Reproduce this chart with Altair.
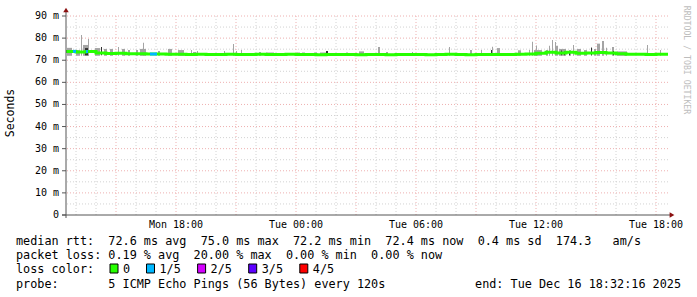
import altair as alt
import pandas as pd

# ---------------- data (time in hours since Mon 00:00, values in ms) ----------------
med_start_h = 12.5
med_step_h = 0.5
median_ms = [74.0, 73.7, 73.9, 73.3, 73.0, 73.1, 72.9, 72.9, 72.8, 72.8,
             72.7, 72.7, 72.6, 72.7, 72.6, 72.6, 72.7, 72.6, 72.6, 72.7,
             72.6, 72.6, 72.7, 72.6, 72.6, 72.5, 72.6, 72.6, 72.6, 72.5,
             72.6, 72.6, 72.5, 72.6, 72.6, 72.6, 72.5, 72.6, 72.7, 72.6,
             72.5, 72.6, 72.6, 72.6, 72.6, 72.7, 72.8, 73.1, 73.6, 73.3,
             73.6, 73.2, 73.3, 73.5, 73.3, 72.9, 72.7, 72.7, 72.6, 72.7, 72.7]
end_h = 42.6

smoke_start = [12.55, 13.00, 13.25, 13.35, 13.60, 13.95, 14.40, 14.70, 15.10, 15.30,
               15.60, 16.00, 16.20, 16.35, 17.10, 17.60, 18.10, 18.75, 18.85, 19.05,
               20.40, 20.85, 21.00, 21.25, 22.15, 22.50, 24.05, 24.30, 24.90, 25.20,
               26.50, 27.15, 28.10, 28.50, 29.80, 31.65, 32.70, 33.25, 33.80, 34.05,
               35.10, 35.65, 35.80, 35.90, 36.00, 36.50, 36.65, 36.80, 36.95, 37.00,
               37.15, 37.65, 37.85, 38.05, 38.40, 38.75, 38.90, 39.05, 39.30, 39.50,
               39.80, 40.05, 41.55, 42.20]
smoke_end = [12.80, 13.20, 13.30, 13.65, 13.65, 14.20, 14.55, 14.85, 15.15, 15.45,
             15.70, 16.10, 16.50, 16.40, 17.20, 17.80, 18.40, 18.80, 19.00, 19.10,
             20.45, 20.90, 21.05, 21.30, 22.25, 22.90, 24.20, 24.45, 25.05, 25.55,
             26.60, 27.40, 28.20, 28.60, 29.85, 31.70, 32.80, 33.30, 33.85, 34.20,
             35.25, 35.70, 35.85, 36.30, 36.05, 36.60, 36.70, 36.85, 37.00, 37.10,
             37.50, 37.75, 37.90, 38.25, 38.55, 38.80, 39.00, 39.20, 39.40, 39.55,
             39.90, 40.55, 41.60, 42.25]
smoke_top = [75.6, 74.6, 81.4, 76.9, 79.6, 75.5, 75.1, 75.1, 76.0, 75.1,
             74.6, 74.6, 75.1, 77.9, 74.2, 75.1, 74.6, 74.6, 73.7, 74.2,
             74.2, 77.3, 74.2, 74.6, 73.7, 73.5, 73.5, 73.5, 73.5, 73.5,
             73.5, 74.0, 76.0, 73.7, 73.7, 76.0, 74.6, 74.6, 76.1, 75.5,
             74.5, 74.6, 78.4, 74.6, 76.7, 74.6, 76.5, 79.1, 78.2, 76.5,
             75.1, 74.6, 76.9, 75.1, 74.6, 76.0, 75.1, 77.5, 78.7, 75.6,
             76.0, 74.0, 76.9, 74.6]
smoke_low = 72.0

dark_start = [13.45, 14.25, 25.50, 33.75, 37.25, 37.40, 37.65, 38.75, 39.85]
dark_end = [13.60, 14.30, 25.60, 33.80, 37.30, 37.45, 37.70, 38.80, 39.90]
dark_top = [75.5, 76.0, 74.2, 74.6, 74.4, 74.0, 74.2, 75.5, 74.2]
dark_low = 72.2

loss_start = [12.85, 13.50, 16.70]
loss_end = [13.00, 13.60, 17.05]
loss_level = [1, 1, 1]

legend_labels = ["0", "1/5", "2/5", "3/5", "4/5"]
loss_colors = ["#26ff00", "#00b8ff", "#d400ff", "#5e00ff", "#ff0000"]

x_label_hours = [18, 24, 30, 36, 42]
x_label_text = ["Mon 18:00", "Tue 00:00", "Tue 06:00", "Tue 12:00", "Tue 18:00"]
y_label_values = [0, 10, 20, 30, 40, 50, 60, 70, 80, 90]
y_label_text = ["0", "10 m", "20 m", "30 m", "40 m", "50 m", "60 m", "70 m", "80 m", "90 m"]
y_minor = [5, 15, 25, 35, 45, 55, 65, 75, 85]
y_major = [10, 20, 30, 40, 50, 60, 70, 80, 90]
x_minor = [h for h in range(13, 43) if h % 3 != 0]
x_major = [h for h in range(15, 43, 3)]

row1 = "median rtt:  72.6 ms avg  75.0 ms max  72.2 ms min  72.4 ms now  0.4 ms sd  174.3   am/s"
row2 = "packet loss: 0.19 % avg  20.00 % max  0.00 % min  0.00 % now"
row3 = "loss color:"
row4 = "probe:       5 ICMP Echo Pings (56 Bytes) every 120s"
row4_end = "end: Tue Dec 16 18:32:16 2025"
watermark = "RRDTOOL / TOBI OETIKER"
y_title = "Seconds"

# ---------------- tables ----------------
W, H = 602, 199
X0 = 66  # absolute left of plot
Y0 = 16  # absolute top of plot
MONO = "DejaVu Sans Mono"

med_h = [med_start_h + i * med_step_h for i in range(len(median_ms))] + [end_h]
med_df = pd.DataFrame({"h": med_h, "ms": median_ms + [median_ms[-1]]})

smoke_df = pd.DataFrame({"s": smoke_start, "e": smoke_end, "hi": smoke_top,
                         "lo": [smoke_low] * len(smoke_top)})
dark_df = pd.DataFrame({"s": dark_start, "e": dark_end, "hi": dark_top,
                        "lo": [dark_low] * len(dark_top)})


def med_at(h):
    i = int((h - med_start_h) // med_step_h)
    i = max(0, min(i, len(median_ms) - 1))
    return median_ms[i]


loss_df = pd.DataFrame({"s": loss_start, "e": loss_end,
                        "ms": [med_at((a + b) / 2) for a, b in zip(loss_start, loss_end)],
                        "c": [loss_colors[l] for l in loss_level]})

xs = alt.Scale(domain=[med_start_h, end_h], nice=False, zero=False)
ys = alt.Scale(domain=[0, 90], nice=False, zero=False)


def X(f):
    return alt.X(f, scale=xs, axis=None)


def Y(f):
    return alt.Y(f, scale=ys, axis=None)


minor_col = "#d2d2d2"
major_col = "#eeb0b0"
dash = [1, 2]

hmin = alt.Chart(pd.DataFrame({"v": y_minor})).mark_rule(
    color=minor_col, strokeDash=dash, strokeWidth=1).encode(y=Y("v:Q"))
hmaj = alt.Chart(pd.DataFrame({"v": y_major})).mark_rule(
    color=major_col, strokeDash=dash, strokeWidth=1).encode(y=Y("v:Q"))
vmin = alt.Chart(pd.DataFrame({"h": x_minor})).mark_rule(
    color=minor_col, strokeDash=dash, strokeWidth=1).encode(x=X("h:Q"))
vmaj = alt.Chart(pd.DataFrame({"h": x_major})).mark_rule(
    color=major_col, strokeDash=dash, strokeWidth=1).encode(x=X("h:Q"))

smoke = alt.Chart(smoke_df).mark_rect(color="#a4a4a4").encode(
    x=X("s:Q"), x2="e:Q", y=Y("lo:Q"), y2="hi:Q")
dark = alt.Chart(dark_df).mark_rect(color="#333333").encode(
    x=X("s:Q"), x2="e:Q", y=Y("lo:Q"), y2="hi:Q")

median = alt.Chart(med_df).mark_line(
    interpolate="step-after", color=loss_colors[0], strokeWidth=3).encode(
    x=X("h:Q"), y=Y("ms:Q"))

loss = alt.Chart(loss_df).mark_rule(strokeWidth=3).encode(
    x=X("s:Q"), x2="e:Q", y=Y("ms:Q"),
    color=alt.Color("c:N", scale=None))

# axis labels and ticks drawn through the scales
ylab_df = pd.DataFrame({"v": y_label_values, "t": y_label_text})
y_ticks = alt.Chart(ylab_df).mark_rule(color="#555555", strokeWidth=1).encode(
    y=Y("v:Q"), x=alt.value(-4), x2=alt.value(0))
y_labels = alt.Chart(ylab_df).mark_text(
    align="right", baseline="middle", font=MONO, fontSize=10, color="#000000").encode(
    y=Y("v:Q"), x=alt.value(-7), text="t:N")
xlab_df = pd.DataFrame({"h": x_label_hours, "t": x_label_text})
x_labels = alt.Chart(xlab_df).mark_text(
    align="center", baseline="middle", font=MONO, fontSize=10, color="#000000").encode(
    x=X("h:Q"), y=alt.value(H + 10), text="t:N")

one = alt.Data(values=[{"k": 0}])
axis_col = "#555555"
arrow_col = "#8b1010"
xaxis_line = alt.Chart(one).mark_rule(color=axis_col, strokeWidth=1).encode(
    x=alt.value(-4), x2=alt.value(W + 2), y=alt.value(H))
yaxis_line = alt.Chart(one).mark_rule(color=axis_col, strokeWidth=1).encode(
    x=alt.value(0), y=alt.value(-6), y2=alt.value(H + 3))
arrow_r = alt.Chart(one).mark_point(shape="triangle-right", filled=True, color=arrow_col,
                                   size=30, opacity=1).encode(
    x=alt.value(W + 4), y=alt.value(H))
arrow_u = alt.Chart(one).mark_point(shape="triangle-up", filled=True, color=arrow_col,
                                   size=30, opacity=1).encode(
    x=alt.value(0), y=alt.value(-6))


def nb(s):
    return s.replace(" ", "\u00a0")


def text_layer(s, x, y, align="left", size=11.8, color="#000000", angle=0):
    kw = dict(align=align, baseline="middle", font=MONO, fontSize=size, color=color)
    if angle:
        kw["angle"] = angle
    return alt.Chart(alt.Data(values=[{"t": nb(s)}])).mark_text(**kw).encode(
        text="t:N", x=alt.value(x), y=alt.value(y))


texts = [
    text_layer(row1, 16 - X0, 241 - Y0),
    text_layer(row2, 16 - X0, 255 - Y0),
    text_layer(row3, 16 - X0, 269 - Y0),
    text_layer(row4, 16 - X0, 284 - Y0),
    text_layer(row4_end, 681 - X0, 284 - Y0, align="right"),
    text_layer(watermark, 686 - X0, 60 - Y0, align="center", size=8.2,
               color="#bdbdbd", angle=90),
    text_layer(y_title, 11 - X0, 113 - Y0, align="center", size=11.5, angle=270),
]

# legend boxes
lefts = []
pos = 110.0
for lab in legend_labels:
    lefts.append(pos)
    pos += (len(lab) + 4) * 7.3
box_df = pd.DataFrame({
    "b0": [l - X0 for l in lefts],
    "b1": [l - X0 + 8 for l in lefts],
    "tx": [l - X0 + 13 for l in lefts],
    "lab": legend_labels,
    "c": loss_colors,
})
boxes = alt.Chart(box_df).mark_rect(stroke="#000000", strokeWidth=1).encode(
    x=alt.X("b0:Q", scale=None), x2="b1:Q",
    y=alt.value(264 - Y0), y2=alt.value(273 - Y0),
    fill=alt.Color("c:N", scale=None))
box_labels = alt.Chart(box_df).mark_text(
    align="left", baseline="middle", font=MONO, fontSize=11.8, color="#000000").encode(
    x=alt.X("tx:Q", scale=None), y=alt.value(269 - Y0), text="lab:N")

chart = alt.layer(
    hmin, vmin, hmaj, vmaj, smoke, dark, median, loss,
    y_ticks, y_labels, x_labels,
    xaxis_line, yaxis_line, arrow_r, arrow_u, boxes, box_labels, *texts
).properties(
    width=W, height=H,
    autosize=alt.AutoSizeParams(type="none"),
    padding={"left": X0, "top": Y0, "right": 697 - X0 - W, "bottom": 297 - Y0 - H},
    background="#ffffff",
).configure_view(stroke=None)

chart.save("out.html", embed_options={"renderer": "svg", "actions": False})
